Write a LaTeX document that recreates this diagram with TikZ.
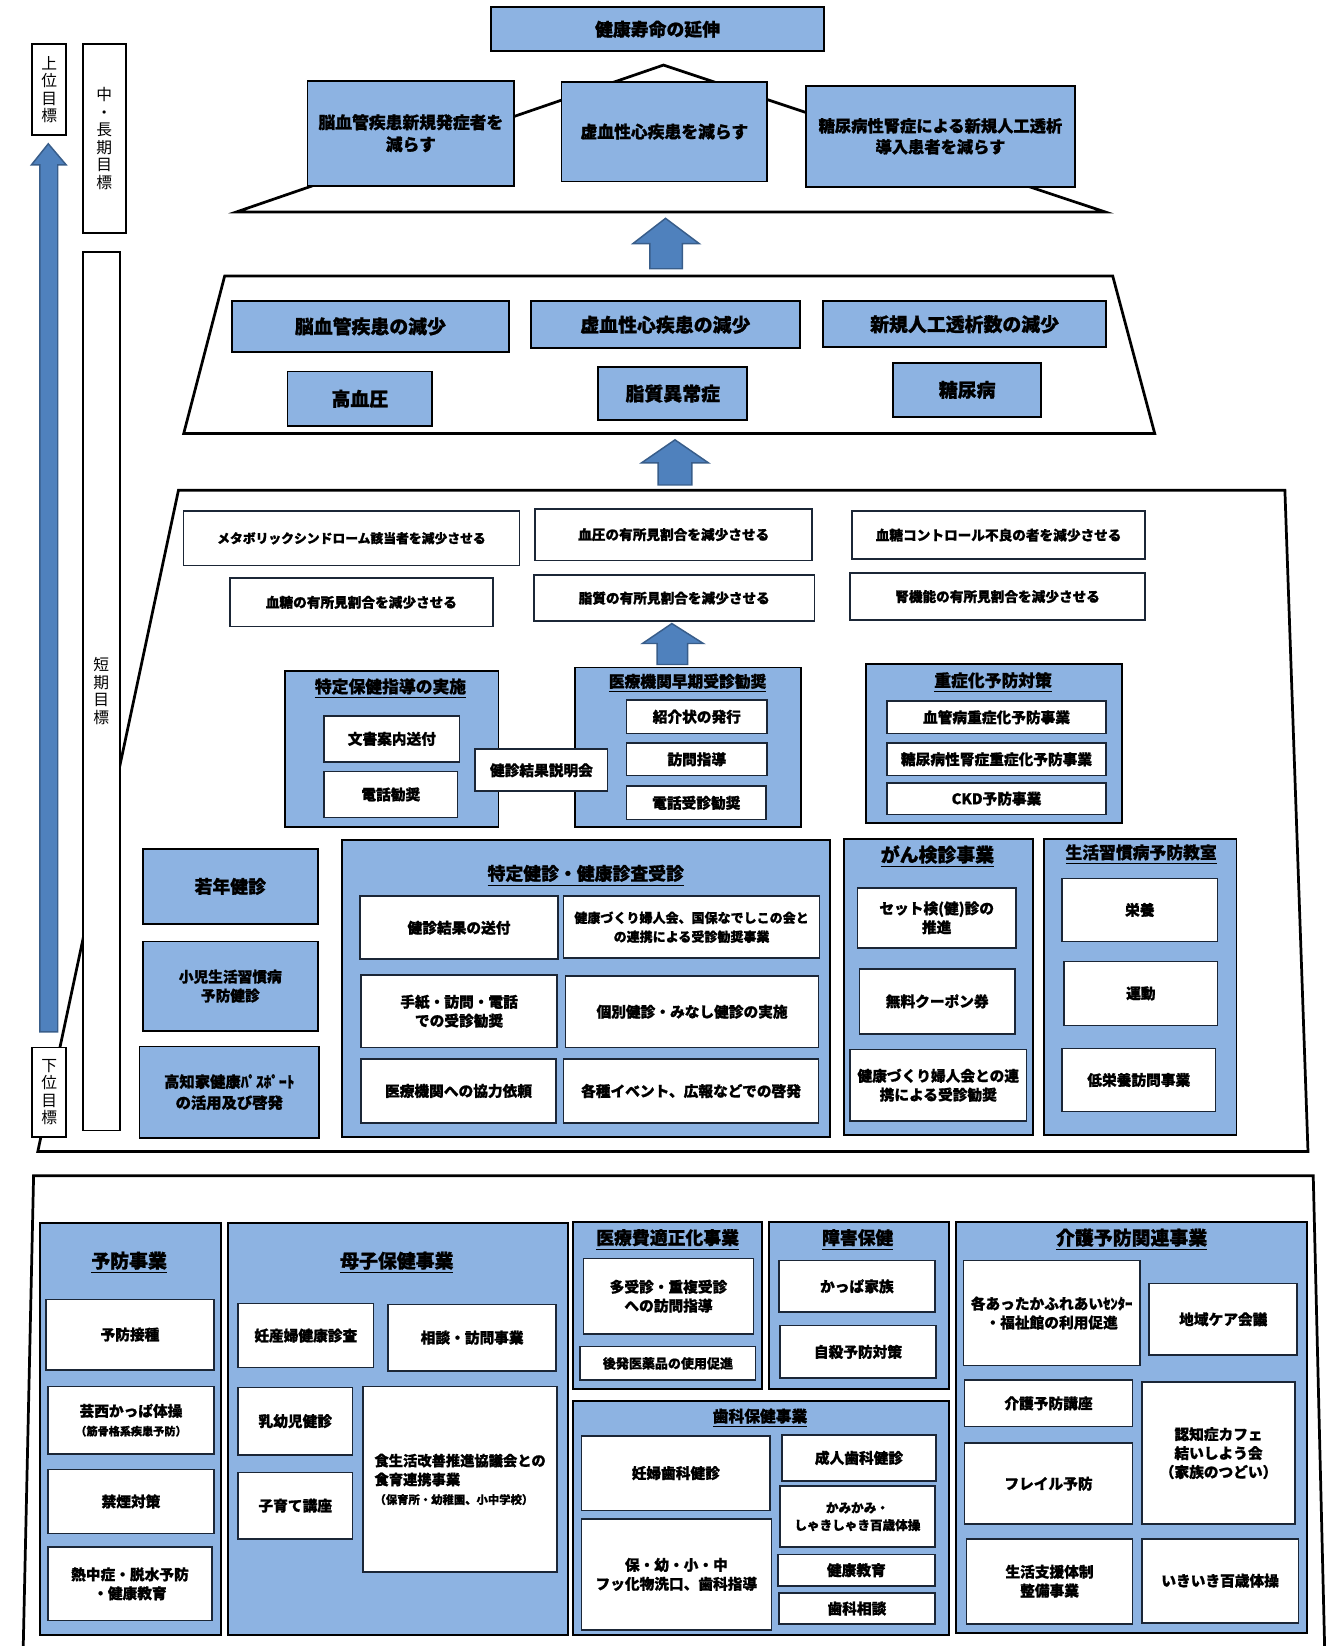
\documentclass[tikz,border=0pt]{standalone}
\usepackage{fontspec}
\setmainfont{Noto Sans CJK JP}[BoldFeatures={FakeBold=1}]
\definecolor{boxblue}{HTML}{8DB3E2}
\definecolor{arrowblue}{HTML}{4F81BD}
\definecolor{arrowline}{HTML}{385D8A}
\definecolor{innerline}{HTML}{1B2636}
\newcommand\fz[2]{\fontsize{#1pt}{#2pt}\selectfont}
% box from its corners: [extra options]{style}{name}{x1}{y1}{x2}{y2}{text}
\newcommand\bx[8][]{\node[#2,#1,anchor=north west,
  minimum width={(#6-#4)*0.5pt},minimum height={(#7-#5)*0.5pt}] (#3) at (#4,#5) {#8};}
\begin{document}
\begin{tikzpicture}[x=0.5pt,y=-0.5pt,
  grp/.style={draw=black, line width=0.9pt, fill=boxblue, inner sep=0pt, align=center, font=\bfseries\fz{6.5}{8.5}},
  wbox/.style={draw=innerline, line width=0.8pt, fill=white, inner sep=0pt, align=center, font=\bfseries\fz{7}{9}},
  target/.style={wbox, font=\bfseries\fz{6.5}{8.6}},
  title/.style={inner sep=0pt, font=\bfseries\fz{8.5}{10}},
  goal/.style={draw=black, line width=0.9pt, fill=white, inner sep=0pt, align=center, font=\fz{7.5}{8.3}},
  pyr/.style={draw=black, line width=1.3pt, fill=white, line join=miter},
  blockarrow/.style={fill=arrowblue, draw=arrowline, line width=0.7pt, line join=miter}]
\useasboundingbox (0,0) rectangle (1279,1568);

% pyramid outlines
\draw[pyr] (632,62) -- (1053,202) -- (225,202) -- cycle;
\draw[pyr] (214,263) -- (1060,263) -- (1100,413) -- (175,413) -- cycle;
\draw[pyr] (170,467) -- (1224,467) -- (1246,1097) -- (36,1097) -- cycle;
\draw[pyr] (22,1575) -- (32,1120) -- (1251,1120) -- (1262,1575);

% block arrows between levels
\draw[blockarrow] (634,208) -- (666,232) -- (650,232) -- (650,256) -- (619,256) -- (619,232) -- (603,232) -- cycle;
\draw[blockarrow] (643,419) -- (675,441) -- (659,441) -- (659,462) -- (627,462) -- (627,441) -- (611,441) -- cycle;
\draw[blockarrow] (640,594) -- (670,613) -- (655,613) -- (655,633) -- (626,633) -- (626,613) -- (612,613) -- cycle;

% goal level labels and the long arrow
\bx{goal}{gup}{30}{41}{62}{128}{上\\位\\目\\標}
\bx{goal}{gmid}{78}{41}{119}{221}{中\\・\\長\\期\\目\\標}
\bx{goal}{gshort}{78}{239}{113}{1076}{短\\期\\目\\標}
\bx{goal}{glow}{30}{997}{62}{1082}{下\\位\\目\\標}
\draw[blockarrow] (46,137) -- (63,157) -- (55,157) -- (55,983) -- (38,983) -- (38,157) -- (30,157) -- cycle;

% top level
\bx[font=\bfseries\fz{8.5}{10}]{grp}{top}{467}{6}{784}{48}{健康寿命の延伸}
\bx[font=\bfseries\fz{8}{10.5}]{grp}{m1}{292}{76}{489}{176}{脳血管疾患新規発症者を\\減らす}
\bx[font=\bfseries\fz{8}{10.5}]{grp}{m2}{534}{77}{730}{172}{虚血性心疾患を減らす}
\bx[font=\bfseries\fz{7.75}{10}]{grp}{m3}{767}{81}{1023}{177}{糖尿病性腎症による新規人工透析\\導入患者を減らす}

% middle level
\bx[font=\bfseries\fz{9}{11}]{grp}{d1}{220}{286}{484}{334}{脳血管疾患の減少}
\bx[font=\bfseries\fz{9}{11}]{grp}{d2}{505}{286}{761}{331}{虚血性心疾患の減少}
\bx[font=\bfseries\fz{9}{11}]{grp}{d3}{783}{286}{1053}{330}{新規人工透析数の減少}
\bx[font=\bfseries\fz{9}{11}]{grp}{r1}{273}{353}{411}{405}{高血圧}
\bx[font=\bfseries\fz{9}{11}]{grp}{r2}{569}{349}{711}{399}{脂質異常症}
\bx[font=\bfseries\fz{9}{11}]{grp}{r3}{850}{345}{991}{396}{糖尿病}

% short-term targets
\bx[font=\bfseries\fz{6.1}{8}]{target}{s1}{174}{486}{494}{538}{メタボリックシンドローム該当者を減少させる}
\bx{target}{s2}{509}{484}{773}{533}{血圧の有所見割合を減少させる}
\bx{target}{s3}{811}{486}{1090}{532}{血糖コントロール不良の者を減少させる}
\bx{target}{s4}{218}{550}{469}{596}{血糖の有所見割合を減少させる}
\bx{target}{s5}{508}{547}{775}{591}{脂質の有所見割合を減少させる}
\bx{target}{s6}{809}{545}{1090}{590}{腎機能の有所見割合を減少させる}

% guidance groups
\bx{grp}{g1}{271}{638}{474}{787}{}
\node[title, font=\bfseries\fz{8}{10}] (g1t) at (372,656) {\underline{特定保健指導の実施}};
\bx{wbox}{g1a}{308}{681}{437}{725}{文書案内送付}
\bx{wbox}{g1b}{308}{734}{435}{778}{電話勧奨}

\bx{grp}{g2}{547}{635}{762}{787}{}
\node[title, font=\bfseries\fz{7.5}{9}] (g2t) at (655,651) {\underline{医療機関早期受診勧奨}};
\bx{wbox}{g2a}{596}{666}{730}{698}{紹介状の発行}
\bx{wbox}{g2b}{596}{707}{730}{738}{訪問指導}
\bx{wbox}{g2c}{596}{748}{729}{780}{電話受診勧奨}

\bx{wbox}{ex}{452}{713}{578}{753}{健診結果説明会}

\bx{grp}{g3}{824}{632}{1068}{783}{}
\node[title, font=\bfseries\fz{8}{10}] (g3t) at (946,650) {\underline{重症化予防対策}};
\bx{wbox}{g3a}{844}{667}{1053}{698}{血管病重症化予防事業}
\bx{wbox}{g3b}{844}{707}{1053}{738}{糖尿病性腎症重症化予防事業}
\bx{wbox}{g3c}{844}{745}{1053}{775}{CKD予防事業}

% checkups
\bx[font=\bfseries\fz{8.5}{10}]{grp}{k1}{135}{808}{302}{879}{若年健診}
\bx[font=\bfseries\fz{7}{9}]{grp}{k2}{135}{896}{302}{981}{小児生活習慣病\\予防健診}
\bx[font=\bfseries\fz{7.3}{10}]{grp}{k3}{132}{996}{303}{1083}{高知家健康ﾊﾟｽﾎﾟｰﾄ\\の活用及び啓発}

\bx{grp}{g4}{325}{799}{790}{1082}{}
\node[title] (g4t) at (558,834) {\underline{特定健診・健康診査受診}};
\bx{wbox}{g4a}{342}{853}{531}{913}{健診結果の送付}
\bx[font=\bfseries\fz{6.2}{9}]{wbox}{g4b}{536}{853}{780}{912}{健康づくり婦人会、国保なでしこの会と\\の連携による受診勧奨事業}
\bx{wbox}{g4c}{343}{928}{530}{997}{手紙・訪問・電話\\での受診勧奨}
\bx{wbox}{g4d}{538}{929}{779}{997}{個別健診・みなし健診の実施}
\bx{wbox}{g4e}{343}{1008}{529}{1069}{医療機関への協力依頼}
\bx{wbox}{g4f}{536}{1008}{779}{1069}{各種イベント、広報などでの啓発}

\bx{grp}{g5}{803}{798}{983}{1080}{}
\node[title, font=\bfseries\fz{9}{10}] (g5t) at (893,816) {\underline{がん検診事業}};
\bx{wbox}{g5a}{816}{845}{967}{902}{セット検(健)診の\\推進}
\bx{wbox}{g5b}{818}{922}{966}{984}{無料クーポン券}
\bx{wbox}{g5c}{809}{999}{977}{1067}{健康づくり婦人会との連\\携による受診勧奨}

\bx{grp}{g6}{994}{798}{1177}{1080}{}
\node[title, font=\bfseries\fz{8}{10}] (g6t) at (1087,814) {\underline{生活習慣病予防教室}};
\bx{wbox}{g6a}{1011}{836}{1159}{896}{栄養}
\bx{wbox}{g6b}{1013}{915}{1159}{976}{運動}
\bx{wbox}{g6c}{1011}{998}{1157}{1058}{低栄養訪問事業}

% community programmes
\bx{grp}{b1}{37}{1164}{210}{1557}{}
\node[title, font=\bfseries\fz{9}{10}] (b1t) at (123,1203) {\underline{予防事業}};
\bx{wbox}{b1a}{43}{1237}{203}{1304}{予防接種}
\bx{wbox}{b1b}{45}{1320}{203}{1384}{芸西かっぱ体操\\{\fz{5.3}{7}（筋骨格系疾患予防）}}
\bx{wbox}{b1c}{45}{1399}{203}{1460}{禁煙対策}
\bx{wbox}{b1d}{45}{1473}{201}{1543}{熱中症・脱水予防\\・健康教育}

\bx{grp}{b2}{216}{1164}{540}{1557}{}
\node[title, font=\bfseries\fz{9}{10}] (b2t) at (378,1203) {\underline{母子保健事業}};
\bx{wbox}{b2a}{226}{1241}{355}{1302}{妊産婦健康診査}
\bx{wbox}{b2b}{369}{1242}{529}{1305}{相談・訪問事業}
\bx{wbox}{b2c}{226}{1321}{335}{1385}{乳幼児健診}
\bx{wbox}{b2d}{226}{1402}{335}{1465}{子育て講座}
\bx[align=left, font=\bfseries\fz{6.8}{9}]{wbox}{b2e}{345}{1320}{530}{1497}{食生活改善推進協議会との\\食育連携事業\\{\fz{5.4}{7}（保育所・幼稚園、小中学校）}}

\bx{grp}{b3}{545}{1163}{725}{1322}{}
\node[title] (b3t) at (636,1181) {\underline{医療費適正化事業}};
\bx{wbox}{b3a}{555}{1198}{717}{1270}{多受診・重複受診\\への訪問指導}
\bx[font=\bfseries\fz{6.2}{8}]{wbox}{b3b}{552}{1282}{719}{1314}{後発医薬品の使用促進}

\bx{grp}{b4}{732}{1163}{903}{1322}{}
\node[title] (b4t) at (817,1181) {\underline{障害保健}};
\bx{wbox}{b4a}{741}{1200}{890}{1249}{かっぱ家族}
\bx{wbox}{b4b}{742}{1262}{891}{1312}{自殺予防対策}

\bx{grp}{b5}{545}{1334}{903}{1557}{}
\node[title, font=\bfseries\fz{7.5}{9}] (b5t) at (724,1351) {\underline{歯科保健事業}};
\bx{wbox}{b5a}{553}{1367}{733}{1438}{妊婦歯科健診}
\bx{wbox}{b5b}{553}{1446}{734}{1552}{保・幼・小・中\\フッ化物洗口、歯科指導}
\bx{wbox}{b5c}{744}{1366}{891}{1410}{成人歯科健診}
\bx[font=\bfseries\fz{6}{8.3}]{wbox}{b5d}{742}{1415}{890}{1473}{かみかみ・\\しゃきしゃき百歳体操}
\bx{wbox}{b5e}{740}{1480}{890}{1510}{健康教育}
\bx{wbox}{b5f}{741}{1517}{890}{1546}{歯科相談}

\bx{grp}{b6}{910}{1163}{1244}{1555}{}
\node[title, font=\bfseries\fz{9}{10}] (b6t) at (1078,1181) {\underline{介護予防関連事業}};
\bx{wbox}{b6a}{917}{1200}{1085}{1300}{各あったかふれあいｾﾝﾀｰ\\・福祉館の利用促進}
\bx{wbox}{b6b}{1094}{1222}{1235}{1290}{地域ケア会議}
\bx{wbox}{b6c}{918}{1314}{1078}{1358}{介護予防講座}
\bx{wbox}{b6d}{1087}{1316}{1233}{1451}{認知症カフェ\\結いしよう会\\（家族のつどい）}
\bx{wbox}{b6e}{918}{1374}{1078}{1451}{フレイル予防}
\bx{wbox}{b6f}{920}{1465}{1078}{1546}{生活支援体制\\整備事業}
\bx{wbox}{b6g}{1087}{1465}{1236}{1545}{いきいき百歳体操}
\end{tikzpicture}
\end{document}
